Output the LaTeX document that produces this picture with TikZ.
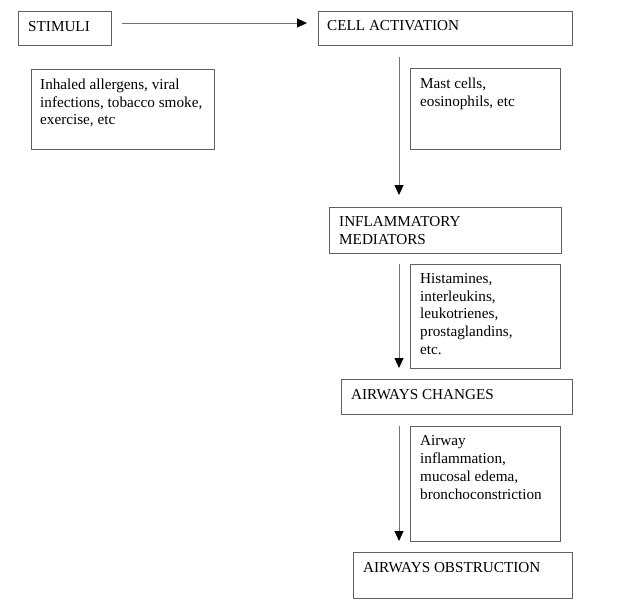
\documentclass[tikz,border=0pt]{standalone}
\usepackage{fontspec}
\setmainfont{Liberation Serif}
\usetikzlibrary{arrows.meta}
\begin{document}
\begin{tikzpicture}[x=1pt,y=-1pt,
  boxframe/.style={draw=black!62,line width=0.9pt,anchor=north west,inner sep=0pt},
  boxtext/.style={anchor=north west,inner sep=0pt,align=left,font=\fontsize{15.2}{17.8}\selectfont},
  flowarrow/.style={draw=black!55,line width=0.9pt,-{Triangle[width=9pt,length=10pt,fill=black,color=black]}}]
\useasboundingbox (0,0) rectangle (636,613);
% boxes
\node[boxframe,minimum width=93pt,minimum height=34pt] (stim) at (18,11) {};
\node[boxframe,minimum width=183pt,minimum height=80pt] (inh) at (31,69) {};
\node[boxframe,minimum width=254pt,minimum height=34pt] (cell) at (318,11) {};
\node[boxframe,minimum width=150pt,minimum height=81pt] (mast) at (410,68) {};
\node[boxframe,minimum width=232pt,minimum height=46pt] (infl) at (329,207) {};
\node[boxframe,minimum width=150pt,minimum height=104pt] (hist) at (410,264) {};
\node[boxframe,minimum width=231pt,minimum height=35pt] (chg) at (341,379) {};
\node[boxframe,minimum width=150pt,minimum height=115pt] (airw) at (410,426) {};
\node[boxframe,minimum width=219pt,minimum height=46pt] (obst) at (353,552) {};
% texts
\node[boxtext] (tstim) at ([shift={(10,10)}]stim.north west) {STIMULI};
\node[boxtext] (tinh) at ([shift={(9,9.5)}]inh.north west) {Inhaled allergens, viral\\infections, tobacco smoke,\\exercise, etc};
\node[boxtext] (tcell) at ([shift={(9,9)}]cell.north west) {CELL ACTIVATION};
\node[boxtext] (tmast) at ([shift={(10,9.5)}]mast.north west) {Mast cells,\\eosinophils, etc};
\node[boxtext] (tinfl) at ([shift={(10,9.5)}]infl.north west) {INFLAMMATORY\\MEDIATORS};
\node[boxtext] (thist) at ([shift={(10,9)}]hist.north west) {Histamines,\\interleukins,\\leukotrienes,\\prostaglandins,\\etc.};
\node[boxtext] (tchg) at ([shift={(10,10.5)}]chg.north west) {AIRWAYS CHANGES};
\node[boxtext] (tairw) at ([shift={(10,9.5)}]airw.north west) {Airway\\inflammation,\\mucosal edema,\\bronchoconstriction};
\node[boxtext] (tobst) at ([shift={(10,10.5)}]obst.north west) {AIRWAYS OBSTRUCTION};
% arrow ends
\coordinate (a1s) at (122,23);
\coordinate (a1e) at (307,23);
\coordinate (a2s) at (399,57);
\coordinate (a2e) at (399,195);
\coordinate (a3s) at (399,264);
\coordinate (a3e) at (399,368);
\coordinate (a4s) at (399,426);
\coordinate (a4e) at (399,541);
\draw[flowarrow] (a1s) -- (a1e);
\draw[flowarrow] (a2s) -- (a2e);
\draw[flowarrow] (a3s) -- (a3e);
\draw[flowarrow] (a4s) -- (a4e);
\end{tikzpicture}
\end{document}
